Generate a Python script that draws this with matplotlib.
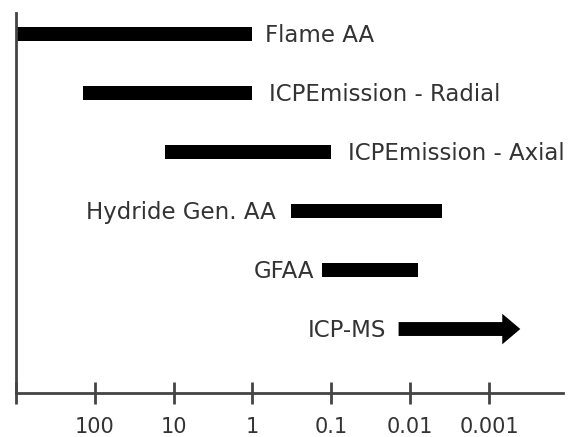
"""
Detection-limit ranges of atomic spectroscopy techniques.
Horizontal bars on a reversed log axis; saves out.png.
"""

import matplotlib.pyplot as plt
from matplotlib.patches import FancyArrowPatch

# ---------------------------------------------------------------------------
# Data (approximate detection-limit ranges)
# ---------------------------------------------------------------------------
techniques = ["Flame AA", "ICPEmission - Radial", "ICPEmission - Axial",
              "Hydride Gen. AA", "GFAA", "ICP-MS"]
range_hi = [1000, 140, 13, 0.32, 0.13, 0.014]
range_lo = [1, 1, 0.1, 0.0039, 0.008, 0.0004]
label_side = ["right", "right", "right", "left", "left", "left"]
label_gap = [9, 12, 12, 11, 6, 9]          # points between bar and label
row_y = [6, 5, 4, 3, 2, 1]

tick_values = [1000, 100, 10, 1, 0.1, 0.01, 0.001]
tick_labels = ["", "100", "10", "1", "0.1", "0.01", "0.001"]

TEXT = "#333333"
AXIS = "#444444"

fig = plt.figure(figsize=(5.77, 4.37), dpi=100)
ax = fig.add_axes([0.0277, 0.1007, 0.948, 0.8696])
ax.set_xscale("log")
ax.set_xlim(1000, 1.15e-4)
ax.set_ylim(-0.085, 6.36)

# ---------------------------------------------------------------------------
# Bars (last one is drawn as an open-ended arrow)
# ---------------------------------------------------------------------------
for i, name in enumerate(techniques):
    hi, lo, y = range_hi[i], range_lo[i], row_y[i]
    if name == "ICP-MS":
        arrow = FancyArrowPatch((hi, y), (lo, y),
                                arrowstyle="simple,head_length=13,head_width=22,tail_width=10",
                                mutation_scale=1, shrinkA=0, shrinkB=0,
                                color="black", lw=0)
        ax.add_patch(arrow)
    else:
        ax.barh(y, lo - hi, left=hi, height=0.24, color="black")

    if label_side[i] == "right":
        ax.annotate(name, xy=(lo, y), xytext=(label_gap[i], -1),
                    textcoords="offset points", ha="left", va="center",
                    fontsize=16.5, color=TEXT)
    else:
        ax.annotate(name, xy=(hi, y), xytext=(-label_gap[i], -1),
                    textcoords="offset points", ha="right", va="center",
                    fontsize=16.5, color=TEXT)

# ---------------------------------------------------------------------------
# Axes styling
# ---------------------------------------------------------------------------
ax.spines["top"].set_visible(False)
ax.spines["right"].set_visible(False)
for s in ("left", "bottom"):
    ax.spines[s].set_color(AXIS)
    ax.spines[s].set_linewidth(2)

ax.set_yticks([])
ax.set_xticks(tick_values)
ax.set_xticklabels(tick_labels)
ax.xaxis.set_minor_locator(plt.NullLocator())
ax.tick_params(axis="x", direction="inout", length=16, width=2, color=AXIS,
               labelsize=15, labelcolor=TEXT, pad=9)

fig.savefig("out.png", dpi=100)
print("Saved: out.png")
